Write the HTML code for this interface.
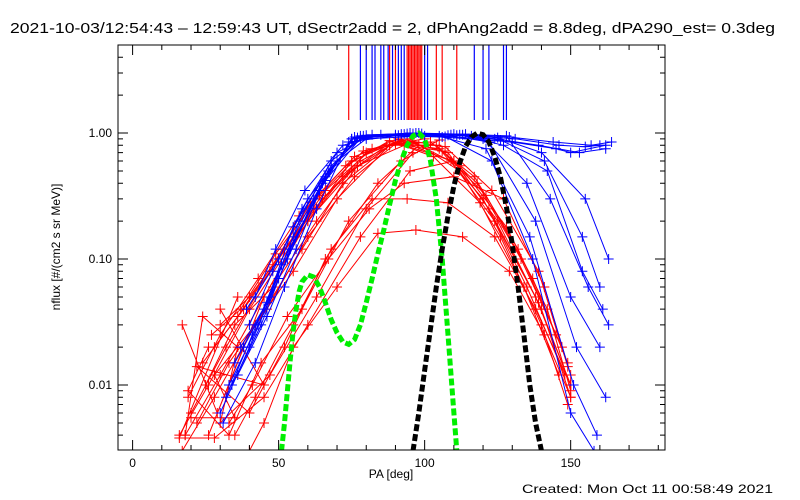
<!DOCTYPE html>
<html><head><meta charset="utf-8"><style>
body{margin:0;background:#fff;}
svg{display:block;font-family:"Liberation Sans",sans-serif;}
</style></head><body>
<svg id="chart" width="800" height="500" viewBox="0 0 800 500">
<text x="10" y="33" font-size="14.5" textLength="765" lengthAdjust="spacingAndGlyphs">2021-10-03/12:54:43 – 12:59:43 UT, dSectr2add = 2, dPhAng2add = 8.8deg, dPA290_est=  0.3deg</text>
<g id="marks"></g>
<rect x="118" y="45" width="547" height="405" fill="none" stroke="#000" stroke-width="1"/>
<g id="axes"></g>
<text x="391" y="478" font-size="12" text-anchor="middle">PA [deg]</text>
<text x="0" y="0" font-size="12" text-anchor="middle" transform="translate(60,247) rotate(-90)">nflux [#/(cm2 s sr MeV)]</text>
<text x="522" y="493" font-size="12" textLength="251" lengthAdjust="spacingAndGlyphs">Created: Mon Oct 11 00:58:49 2021</text>
</svg>
<script>
const xTicks=[0,50,100,150];
const yTicks=[1,0.1,0.01];
const yTickLabels=["1.00","0.10","0.01"];
const redLinePA=[74,88,90,94,94.5,95,95.5,96,96.5,97,97.5,98,98.5,99,104,106,111];
const blueLinePA=[78,80,82,83,85,86,87.5,89,91,92,93,100,101,117,120,122,127,128];
const greenPA=[51,52,53,54,55,56,57,58,60,62,64,66,68,70,72,74,76,78,80,82,84,86,88,90,92,94,96,98,100,102,104,106,108,110,111];
const greenFlux=[0.003,0.005,0.009,0.016,0.027,0.04,0.055,0.066,0.075,0.072,0.06,0.045,0.033,0.026,0.022,0.021,0.023,0.03,0.045,0.07,0.11,0.17,0.27,0.42,0.6,0.8,0.95,1.0,0.9,0.6,0.3,0.1,0.025,0.006,0.003];
const blackPA=[96,98,100,102,104,106,108,110,112,114,116,118,120,122,124,126,128,130,132,134,136,138,140];
const blackFlux=[0.003,0.006,0.013,0.028,0.06,0.12,0.22,0.38,0.58,0.78,0.93,1.0,0.97,0.85,0.65,0.44,0.26,0.13,0.06,0.025,0.01,0.005,0.003];
const redPA=[
[18,30,45,60,75,90,105,120,135,148],
[20,32,47,62,78,92,108,122,138,150],
[25,35,48,63,77,93,110,125,140,150],
[28,38,50,65,80,95,112,126,140,149],
[17,28,42,58,72,88,104,118,133,147],
[30,40,52,66,82,96,112,128,142,150],
[22,33,46,60,76,90,106,121,137,149],
[35,42,55,68,82,94,108,124,138,150],
[19,30,43,57,73,88,103,119,134,146],
[40,45,55,70,84,97,113,129,141,150],
[24,36,48,61,76,91,107,123,139,149],
[27,37,49,64,79,92,109,124,139,150],
[33,41,53,67,81,93,110,127,141,150],
[16,26,40,56,72,87,102,117,132,145],
[17,29,38,26,45,60,75,90],
[20,35,28,42,55,70,88,100],
[26,19,33,44,58,74,92,105],
[30,45,22,40,52,66,84,98],
[18,24,36,30,47,63,80,96],
[36,16,28,45,60,78,95,110]];
const redFlux=[
[0.004,0.012,0.05,0.2,0.5,0.85,0.75,0.3,0.06,0.012],
[0.006,0.02,0.08,0.25,0.6,0.88,0.7,0.25,0.05,0.01],
[0.01,0.03,0.06,0.2,0.55,0.8,0.6,0.2,0.04,0.008],
[0.02,0.04,0.1,0.3,0.7,0.9,0.5,0.15,0.03,0.007],
[0.003,0.008,0.03,0.12,0.4,0.8,0.8,0.4,0.1,0.02],
[0.03,0.05,0.12,0.35,0.75,0.85,0.55,0.18,0.04,0.009],
[0.005,0.015,0.04,0.15,0.45,0.82,0.72,0.32,0.07,0.015],
[0.004,0.008,0.03,0.12,0.3,0.3,0.28,0.15,0.04,0.01],
[0.008,0.025,0.07,0.22,0.55,0.87,0.65,0.28,0.06,0.012],
[0.003,0.005,0.02,0.06,0.16,0.17,0.15,0.08,0.025,0.008],
[0.015,0.035,0.09,0.28,0.65,0.9,0.78,0.35,0.08,0.014],
[0.025,0.04,0.11,0.32,0.72,0.86,0.6,0.2,0.045,0.01],
[0.005,0.01,0.035,0.1,0.25,0.4,0.45,0.3,0.06,0.012],
[0.004,0.01,0.04,0.15,0.45,0.8,0.85,0.45,0.12,0.025],
[0.03,0.006,0.02,0.004,0.05,0.2,0.6,0.85],
[0.0055,0.0055,0.012,0.03,0.08,0.3,0.8,0.9],
[0.02,0.009,0.004,0.015,0.04,0.2,0.6,0.88],
[0.04,0.01,0.014,0.006,0.02,0.1,0.4,0.8],
[0.004,0.035,0.02,0.005,0.012,0.05,0.25,0.7],
[0.05,0.0038,0.0038,0.008,0.03,0.15,0.5,0.6]];
const bluePA=[
[30,40,50,62,75,90,105,120,135,150,160],
[33,43,53,65,76,92,108,122,138,152,162],
[35,45,55,67,78,95,110,125,140,155,163],
[38,47,57,68,80,97,112,127,142,154,161],
[31,42,52,63,74,90,106,121,136,151,159],
[36,46,56,66,77,94,109,124,139,153,162],
[40,48,58,70,82,98,114,128,143,156,163],
[32,41,51,64,75,91,107,123,137,150,158],
[34,44,54,66,78,93,111,126,141,154,160],
[37,46,55,68,79,96,113,129,144,157,164],
[39,50,60,70,80,100,115,130,145,150,162],
[42,49,59,72,85,99,116,131,146,155,160]];
const blueFlux=[
[0.006,0.02,0.07,0.3,0.9,0.97,0.95,0.9,0.4,0.05,0.02],
[0.01,0.03,0.1,0.4,0.93,0.98,0.96,0.85,0.2,0.02,0.008],
[0.015,0.04,0.15,0.5,0.95,1.0,0.98,0.92,0.7,0.3,0.1],
[0.02,0.05,0.2,0.6,0.96,1.0,0.97,0.8,0.5,0.08,0.04],
[0.005,0.015,0.06,0.25,0.85,0.95,0.93,0.75,0.15,0.01,0.004],
[0.012,0.035,0.12,0.45,0.92,0.99,0.97,0.9,0.8,0.7,0.75],
[0.03,0.08,0.25,0.7,0.97,1.0,0.98,0.95,0.3,0.06,0.03],
[0.008,0.025,0.09,0.35,0.9,0.96,0.94,0.6,0.1,0.006,0.003],
[0.01,0.03,0.12,0.42,0.91,0.98,0.96,0.88,0.6,0.15,0.06],
[0.02,0.045,0.18,0.55,0.95,0.99,0.97,0.93,0.85,0.8,0.85],
[0.04,0.1,0.3,0.6,0.9,0.95,0.9,0.85,0.75,0.7,0.8],
[0.05,0.12,0.35,0.8,0.97,0.99,0.95,0.9,0.8,0.78,0.8]];

const X0=118,X1=665,Y0=45,Y1=450;
const xmin=-5,xmax=182.3,ymin=Math.log10(0.00305),ymax=Math.log10(5);
function xs(v){return X0+(v-xmin)/(xmax-xmin)*(X1-X0);}
function ys(v){return Y1-(Math.log10(v)-ymin)/(ymax-ymin)*(Y1-Y0);}
const NS="http://www.w3.org/2000/svg";
const marks=document.getElementById('marks'),axes=document.getElementById('axes');
function mk(tag,attrs,parent){const e=document.createElementNS(NS,tag);for(const k in attrs)e.setAttribute(k,attrs[k]);parent.appendChild(e);return e;}
const clip=mk('clipPath',{id:'pc'},marks);mk('rect',{x:X0,y:Y0,width:X1-X0,height:Y1-Y0},clip);
const g=mk('g',{'clip-path':'url(#pc)'},marks);
function series(pa,fl,color,name,i){
  const pts=pa.map((p,j)=>xs(p).toFixed(1)+','+ys(fl[j]).toFixed(1)).join(' ');
  const pl=mk('polyline',{points:pts,fill:'none',stroke:color,'stroke-width':1},g);
  
  
  pa.forEach((p,j)=>{const x=xs(p),y=ys(fl[j]);
    const m=mk('path',{d:`M${x-5},${y}H${x+5}M${x},${y-5}V${y+5}`,stroke:color,'stroke-width':1},g);
    
    });
}
redPA.forEach((pa,i)=>series(pa,redFlux[i],'#ff0000','red-trace',i));
bluePA.forEach((pa,i)=>series(pa,blueFlux[i],'#0000ff','blue-trace',i));
redLinePA.forEach(p=>{const l=mk('line',{x1:xs(p),x2:xs(p),y1:Y0,y2:120,stroke:'#ff0000','stroke-width':1.2},g);
  
  });
blueLinePA.forEach(p=>{const l=mk('line',{x1:xs(p),x2:xs(p),y1:Y0,y2:120,stroke:'#0000ff','stroke-width':1.2},g);
  
  });
function thick(pa,fl,color,name){
  const pts=pa.map((p,j)=>xs(p).toFixed(1)+','+ys(fl[j]).toFixed(1)).join(' ');
  const pl=mk('polyline',{points:pts,fill:'none',stroke:color,'stroke-width':5,'stroke-dasharray':'7 3','stroke-linecap':'butt'},g);
  
  
}
thick(greenPA,greenFlux,'#00ee00','green-model-curve');
thick(blackPA,blackFlux,'#000000','black-model-curve');
xTicks.forEach(t=>{const x=xs(t);
  mk('path',{d:`M${x},${Y1}v-10M${x},${Y0}v10`,stroke:'#000'},axes);
  const tx=mk('text',{x:x,y:467,'font-size':12,'text-anchor':'middle'},axes);tx.textContent=t;
  
  });
for(let t=10;t<182;t+=10){if(t%50){const x=xs(t);mk('path',{d:`M${x},${Y1}v-5M${x},${Y0}v5`,stroke:'#000'},axes);}}
yTicks.forEach((t,i)=>{const y=ys(t);
  mk('path',{d:`M${X0},${y}h10M${X1},${y}h-10`,stroke:'#000'},axes);
  const tx=mk('text',{x:112,y:y+4,'font-size':12,'text-anchor':'end'},axes);tx.textContent=yTickLabels[i];
  
  });
for(let d=-3;d<1;d++)for(let k=2;k<10;k++){const v=k*Math.pow(10,d);if(v<0.00305||v>5)continue;const y=ys(v);
  mk('path',{d:`M${X0},${y}h5M${X1},${y}h-5`,stroke:'#000'},axes);}
</script>
</body></html>
